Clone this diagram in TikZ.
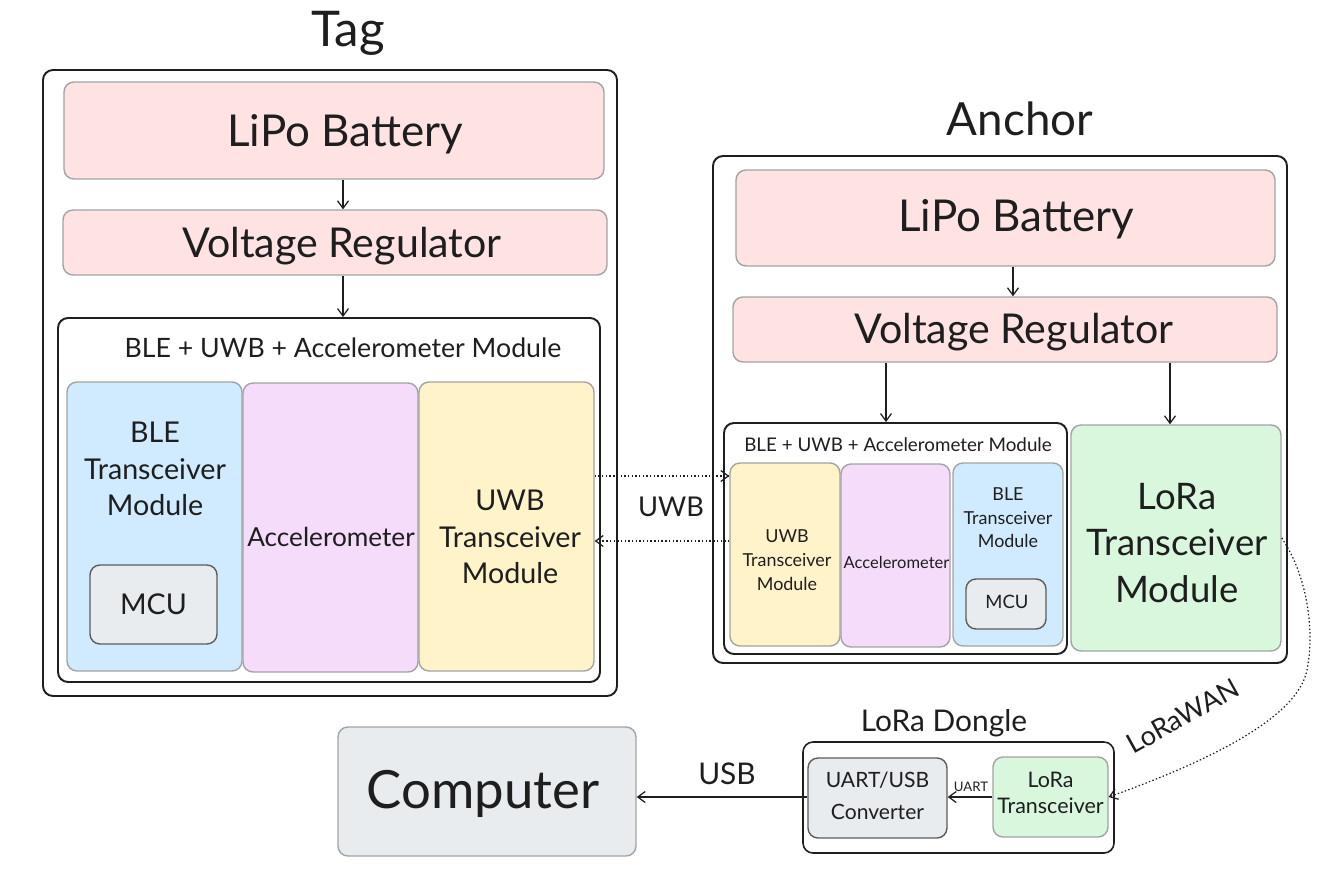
\documentclass[tikz,border=0pt]{standalone}
\usepackage{fontspec}
\setmainfont{Lato}
\usetikzlibrary{arrows.meta,positioning,fit}

\definecolor{ink}{HTML}{1E1E1E}
\definecolor{edgegray}{HTML}{A3A3A3}
\definecolor{mcuedge}{HTML}{5C5C5C}
\definecolor{pinkfill}{HTML}{FFE3E3}
\definecolor{bluefill}{HTML}{D0EBFF}
\definecolor{grapefill}{HTML}{F5DCFA}
\definecolor{yellowfill}{HTML}{FFF3C9}
\definecolor{greenfill}{HTML}{D8F7DC}
\definecolor{grayfill}{HTML}{E9ECEF}

\newcommand{\fsz}[2]{\fontsize{#1}{#2}\selectfont}

\begin{document}
\begin{tikzpicture}[
    x=0.02cm, y=-0.02cm,
    box/.style={rectangle, rounded corners=0.2cm, inner sep=0pt},
    frame/.style={box, draw=ink, line width=1.1pt},
    part/.style={box, draw=edgegray, line width=0.8pt},
    power/.style={part, fill=pinkfill},
    blebox/.style={part, fill=bluefill},
    accbox/.style={part, fill=grapefill},
    uwbbox/.style={part, fill=yellowfill},
    lorabox/.style={part, fill=greenfill},
    mcubox/.style={box, draw=mcuedge, line width=0.8pt, fill=grayfill},
    txt/.style={text=ink, inner sep=0pt, align=center},
    arrow/.style={-{Straight Barb[length=1.5mm, width=2.2mm]}, line width=0.7pt, draw=ink},
    dotarrow/.style={arrow, dash pattern=on 0.8pt off 1.3pt},
  ]
    \useasboundingbox (0,0) rectangle (1336,870);

    % Tag
    \node[txt, anchor=base, font=\fsz{28}{32}] (tagtitle) at (348,46) {Tag};
    \node[frame, fit={(43,70) (617,696)}] (tag) {};
    \node[power, fit={(64,82) (604,179)}] (tbat) {};
    \node[txt, anchor=base, font=\fsz{25}{28}] (tbattxt) at (345,146) {LiPo Battery};
    \node[power, fit={(63,210) (607,275)}] (treg) {};
    \node[txt, anchor=base, font=\fsz{23.4}{28}] (tregtxt) at (342,257) {Voltage Regulator};
    \node[frame, fit={(58,318) (600,682)}] (tmod) {};
    \node[txt, anchor=base, font=\fsz{15.2}{18}] (tmodlbl) at (343,357) {BLE + UWB + Accelerometer Module};
    \node[blebox, fit={(67,382) (242,671)}] (tble) {};
    \node[txt, font=\fsz{16.3}{20.8}] (tbletxt) at (155,469) {BLE\\Transceiver\\Module};
    \node[mcubox, fit={(90,565) (217,644)}] (tmcu) {};
    \node[txt, anchor=base, font=\fsz{16.3}{20}] (tmcutxt) at (153.5,614) {MCU};
    \node[accbox, fit={(243,383) (418,672)}] (tacc) {};
    \node[txt, anchor=base, font=\fsz{14.9}{18}] (tacctxt) at (331,546) {Accelerometer};
    \node[uwbbox, fit={(419,382) (594,671)}] (tuwb) {};
    \node[txt, font=\fsz{16.3}{20.8}] (tuwbtxt) at (510,537) {UWB\\Transceiver\\Module};

    % Anchor
    \node[txt, anchor=base, font=\fsz{26}{30}] (anctitle) at (1020,135) {Anchor};
    \node[frame, fit={(713,156) (1287,663)}] (anchor) {};
    \node[power, fit={(736,170) (1275,266)}] (abat) {};
    \node[txt, anchor=base, font=\fsz{25}{28}] (abattxt) at (1016,231) {LiPo Battery};
    \node[power, fit={(733,297) (1277,362)}] (areg) {};
    \node[txt, anchor=base, font=\fsz{23.4}{28}] (aregtxt) at (1014,343) {Voltage Regulator};
    \node[frame, fit={(724,423) (1067,654)}] (amod) {};
    \node[txt, anchor=base, font=\fsz{10.7}{13}] (amodlbl) at (898,451) {BLE + UWB + Accelerometer Module};
    \node[uwbbox, fit={(730,463) (840,646)}] (auwb) {};
    \node[txt, font=\fsz{10.2}{13.6}] (auwbtxt) at (787,560) {UWB\\Transceiver\\Module};
    \node[accbox, fit={(841,464) (950,647)}] (aacc) {};
    \node[txt, anchor=base, font=\fsz{9.4}{12}] (aacctxt) at (896.5,568) {Accelerometer};
    \node[blebox, fit={(953,463) (1063,646)}] (able) {};
    \node[txt, font=\fsz{10.2}{13.4}] (abletxt) at (1008,518) {BLE\\Transceiver\\Module};
    \node[mcubox, fit={(966,579) (1046,629)}] (amcu) {};
    \node[txt, anchor=base, font=\fsz{10.5}{13}] (amcutxt) at (1007,608) {MCU};
    \node[lorabox, fit={(1071,425) (1281,651)}] (alora) {};
    \node[txt, font=\fsz{20.8}{26.4}] (aloratxt) at (1177,543) {LoRa\\Transceiver\\Module};

    % LoRa Dongle
    \node[txt, anchor=base, font=\fsz{17}{20}] (dongtitle) at (944,731) {LoRa Dongle};
    \node[box, draw=ink, line width=0.9pt, fit={(803,742) (1114,853)}] (dongle) {};
    \node[mcubox, fit={(808,758) (947,838)}] (dconv) {};
    \node[txt, font=\fsz{12}{18.2}] (dconvtxt) at (877.5,796) {UART/USB\\Converter};
    \node[lorabox, fit={(993,757) (1108,837)}] (dlora) {};
    \node[txt, font=\fsz{12.2}{14.8}] (dloratxt) at (1050.5,793) {LoRa\\Transceiver};

    % Computer
    \node[box, draw=edgegray, line width=0.8pt, fill=grayfill, fit={(338,727) (636,856)}] (comp) {};
    \node[txt, anchor=base, font=\fsz{30}{34}] (comptxt) at (483,808) {Computer};

    % Arrows
    \coordinate (tagx) at (343,0);
    \coordinate (ancx) at (1013,0);
    \coordinate (modx) at (886,0);
    \coordinate (lorax) at (1170,0);
    \coordinate (uwbtx) at (0,476);
    \coordinate (uwbrx) at (0,541);
    \coordinate (usby) at (0,797);
    \draw[arrow] (tbat.south -| tagx) -- (treg.north -| tagx);
    \draw[arrow] (treg.south -| tagx) -- (tmod.north -| tagx);
    \draw[arrow] (abat.south -| ancx) -- (areg.north -| ancx);
    \draw[arrow] (areg.south -| modx) -- (amod.north -| modx);
    \draw[arrow] (areg.south -| lorax) -- (alora.north -| lorax);
    \draw[dotarrow] (tuwb.east |- uwbtx) -- (auwb.west |- uwbtx);
    \draw[dotarrow] (auwb.west |- uwbrx) -- (tuwb.east |- uwbrx);
    \node[txt, anchor=base, font=\fsz{15.5}{18}] (uwblbl) at (671,516.5) {UWB};
    \draw[dotarrow] (alora.east) .. controls (1307,575) and (1315,630) .. (1307,670)
      .. controls (1298,715) and (1220,757) .. (dlora.east);
    \node[txt, rotate=29, font=\fsz{15.5}{18}] (lorawan) at (1183,716) {LoRaWAN};
    \draw[arrow] (dlora.west |- usby) -- (dconv.east |- usby);
    \node[txt, anchor=base, font=\fsz{7.5}{9}] (uartlbl) at (971,791) {UART};
    \draw[arrow] (dconv.west |- usby) -- (comp.east |- usby);
    \node[txt, anchor=base, font=\fsz{17}{20}] (usblbl) at (727,784) {USB};
  \end{tikzpicture}
\end{document}
